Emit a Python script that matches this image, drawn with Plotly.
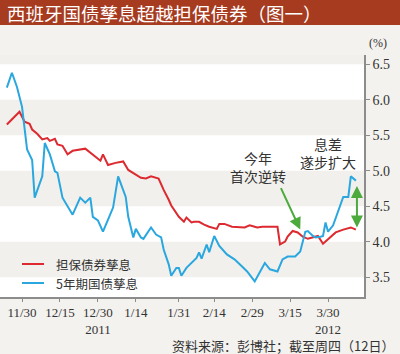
import plotly.graph_objects as go

# ---- data ----
dates_red = ["2011-11-24", "2011-11-29", "2011-12-01", "2011-12-03", "2011-12-04", "2011-12-06",
             "2011-12-08", "2011-12-10", "2011-12-11", "2011-12-13", "2011-12-14", "2011-12-16",
             "2011-12-18", "2011-12-20", "2011-12-25", "2011-12-28", "2011-12-29", "2011-12-31",
             "2012-01-01", "2012-01-03", "2012-01-06", "2012-01-09", "2012-01-11", "2012-01-13",
             "2012-01-16", "2012-01-18", "2012-01-20", "2012-01-23", "2012-01-24", "2012-01-25",
             "2012-01-27", "2012-01-28", "2012-01-31", "2012-02-02", "2012-02-03", "2012-02-05",
             "2012-02-06", "2012-02-08", "2012-02-10", "2012-02-12", "2012-02-15", "2012-02-16",
             "2012-02-18", "2012-02-21", "2012-02-26", "2012-02-28", "2012-03-01", "2012-03-02",
             "2012-03-04", "2012-03-10", "2012-03-11", "2012-03-13", "2012-03-14", "2012-03-16",
             "2012-03-18", "2012-03-20", "2012-03-22", "2012-03-24", "2012-03-26", "2012-03-28",
             "2012-03-29", "2012-03-31", "2012-04-02", "2012-04-05", "2012-04-08", "2012-04-10"]
vals_red = [5.65, 5.83, 5.69, 5.66, 5.58, 5.52,
            5.44, 5.46, 5.42, 5.45, 5.37, 5.35,
            5.23, 5.28, 5.31, 5.23, 5.20, 5.14,
            5.23, 5.08, 5.11, 5.13, 5.01, 4.97,
            4.90, 4.89, 4.92, 4.89, 4.80, 4.73,
            4.59, 4.51, 4.35, 4.28, 4.34, 4.27,
            4.28, 4.28, 4.24, 4.21, 4.18, 4.25,
            4.25, 4.21, 4.20, 4.23, 4.21, 4.20,
            4.21, 4.21, 3.96, 4.00, 4.07, 4.15,
            4.13, 4.07, 4.04, 4.06, 4.08, 3.97,
            4.00, 4.07, 4.13, 4.17, 4.20, 4.17]

dates_blue = ["2011-11-24", "2011-11-26", "2011-11-28", "2011-11-30", "2011-12-02", "2011-12-04",
              "2011-12-05", "2011-12-08", "2011-12-09", "2011-12-11", "2011-12-13", "2011-12-14",
              "2011-12-16", "2011-12-20", "2011-12-23", "2011-12-25", "2011-12-27", "2011-12-28",
              "2011-12-30", "2012-01-01", "2012-01-03", "2012-01-05", "2012-01-07", "2012-01-10",
              "2012-01-11", "2012-01-13", "2012-01-14", "2012-01-16", "2012-01-17", "2012-01-20",
              "2012-01-22", "2012-01-24", "2012-01-25", "2012-01-27", "2012-01-28", "2012-01-30",
              "2012-01-31", "2012-02-01", "2012-02-03", "2012-02-05", "2012-02-07", "2012-02-08",
              "2012-02-09", "2012-02-11", "2012-02-12", "2012-02-14", "2012-02-16", "2012-02-19",
              "2012-02-22", "2012-02-25", "2012-02-27", "2012-03-01", "2012-03-02", "2012-03-05",
              "2012-03-07", "2012-03-10", "2012-03-12", "2012-03-14", "2012-03-17", "2012-03-19",
              "2012-03-21", "2012-03-22", "2012-03-24", "2012-03-25", "2012-03-27", "2012-03-28",
              "2012-03-29", "2012-03-30", "2012-04-01", "2012-04-04", "2012-04-05", "2012-04-07",
              "2012-04-08", "2012-04-10"]
vals_blue = [6.17, 6.38, 6.18, 5.90, 5.30, 5.15,
             4.62, 4.92, 5.39, 5.23, 4.99, 4.97,
             4.62, 4.38, 4.62, 4.55, 4.62, 4.35,
             4.30, 4.14, 4.31, 4.48, 4.92, 4.63,
             4.35, 4.06, 4.18, 4.06, 4.04, 4.20,
             4.10, 4.06, 3.89, 3.68, 3.52, 3.63,
             3.63, 3.52, 3.63, 3.70, 3.77, 3.85,
             3.76, 3.96, 3.85, 4.08, 3.94, 3.82,
             3.75, 3.65, 3.58, 3.44, 3.51, 3.70,
             3.61, 3.58, 3.75, 3.79, 3.79, 3.86,
             4.14, 4.15, 4.08, 4.06, 4.07, 4.08,
             4.27, 4.14, 4.23, 4.54, 4.63, 4.63,
             4.92, 4.86]

name_red = "担保债券孳息"
name_blue = "5年期国债孳息"

tick_dates = ["2011-11-30", "2011-12-15", "2011-12-30", "2012-01-14", "2012-01-31",
              "2012-02-14", "2012-02-29", "2012-03-15", "2012-03-30"]
tick_labels = ["11/30", "12/15", "12/30<br>2011", "1/14", "1/31",
               "2/14", "2/29", "3/15", "3/30<br>2012"]
y_ticks = [3.5, 4.0, 4.5, 5.0, 5.5, 6.0, 6.5]
y_labels = ["3.5", "4.0", "4.5", "5.0", "5.5", "6.0", "6.5"]
gray_bands = [(3.5, 4.0), (4.5, 5.0), (5.5, 6.0), (6.5, 6.63)]

title_text = "西班牙国债孳息超越担保债券（图一）"
source_text = "资料来源：彭博社；截至周四（12日）"
note1 = "今年<br>首次逆转"
note2 = "息差<br>遂步扩大"

# ---- style ----
W, H = 400, 354
ML, MR, MT, MB = 0, 36, 55, 57
PW, PH = W - ML - MR, H - MT - MB
RED = "#dc2a30"
BLUE = "#2aa7df"
GREEN = "#4cab3c"
PAPER = "#f3f2ee"
BAND = "#f1f0ec"
AXIS = "#8c8c8c"
TXT = "#333333"
CJK = "Noto Sans CJK SC"
SERIF = "Liberation Serif, Noto Sans CJK SC"


def py(pix):
    return (H - MB - pix) / PH


def px(pix):
    return (pix - ML) / PW


fig = go.Figure()
fig.add_trace(go.Scatter(x=dates_red, y=vals_red, mode="lines", name=name_red,
                         line=dict(color=RED, width=2), showlegend=False))
fig.add_trace(go.Scatter(x=dates_blue, y=vals_blue, mode="lines", name=name_blue,
                         line=dict(color=BLUE, width=2), showlegend=False))

shapes = []
for y0, y1 in gray_bands:
    shapes.append(dict(type="rect", xref="paper", yref="y", x0=0, x1=1, y0=y0, y1=y1,
                       fillcolor=BAND, line=dict(width=0), layer="below"))
shapes.append(dict(type="rect", xref="paper", yref="paper", x0=px(0), x1=px(W),
                   y0=py(25), y1=py(0), fillcolor="#a63b1f", line=dict(width=0)))

# manual legend
legend_items = [(name_red, RED, 264), (name_blue, BLUE, 283)]
annotations = []
for nm, col, ypix in legend_items:
    shapes.append(dict(type="line", xref="paper", yref="paper", x0=px(22), x1=px(44),
                       y0=py(ypix), y1=py(ypix), line=dict(color=col, width=2)))
    annotations.append(dict(text=nm, xref="paper", yref="paper", x=px(54), y=py(ypix),
                            xanchor="left", yanchor="middle", showarrow=False,
                            font=dict(family=CJK, size=12.5, color=TXT)))

annotations += [
    dict(text=title_text, xref="paper", yref="paper", x=px(5), y=py(13),
         xanchor="left", yanchor="middle", showarrow=False,
         font=dict(family=CJK, size=18.5, color="white")),
    dict(text="(%)", xref="paper", yref="paper", x=px(378), y=py(43),
         xanchor="center", yanchor="middle", showarrow=False,
         font=dict(family=SERIF, size=12, color=TXT)),
    dict(text=source_text, xref="paper", yref="paper", x=px(396), y=py(345),
         xanchor="right", yanchor="middle", showarrow=False,
         font=dict(family=CJK, size=13, color=TXT)),
    dict(text=note1, xref="paper", yref="paper", x=px(258), y=py(167),
         xanchor="center", yanchor="middle", showarrow=False,
         font=dict(family=CJK, size=14, color=TXT)),
    dict(text=note2, xref="paper", yref="paper", x=px(328), y=py(153),
         xanchor="center", yanchor="middle", showarrow=False,
         font=dict(family=CJK, size=14, color=TXT)),
    dict(text="", x="2012-03-19", y=4.17, xref="x", yref="y", ax=-20, ay=-43,
         showarrow=True, arrowcolor=GREEN, arrowwidth=2, arrowhead=2, arrowsize=1.2),
    dict(text="", x="2012-04-10 10:00", y=4.20, xref="x", yref="y", ax=0, ay=-43,
         showarrow=True, arrowcolor=GREEN, arrowwidth=2, arrowhead=2, arrowsize=1.2,
         startarrowhead=2, startarrowsize=1.2, arrowside="end+start"),
]

fig.update_layout(
    width=W, height=H,
    margin=dict(l=ML, r=MR, t=MT, b=MB, pad=0),
    paper_bgcolor=PAPER, plot_bgcolor="white",
    shapes=shapes, annotations=annotations,
    showlegend=False,
    xaxis=dict(type="date", range=["2011-11-21 07:00", "2012-04-13 05:00"],
               tickvals=tick_dates, ticktext=tick_labels, showgrid=False, zeroline=False,
               showline=True, linecolor=AXIS, linewidth=1.5, ticks="outside", ticklen=3,
               tickcolor=AXIS, tickfont=dict(family=SERIF, size=13, color=TXT)),
    yaxis=dict(side="right", range=[3.22, 6.63], tickvals=y_ticks, ticktext=y_labels,
               showgrid=False, zeroline=False, showline=True, linecolor=AXIS, linewidth=1.5,
               ticks="outside", ticklen=4, tickcolor=AXIS,
               tickfont=dict(family=SERIF, size=14, color=TXT)),
)

fig.write_html("out.html")
